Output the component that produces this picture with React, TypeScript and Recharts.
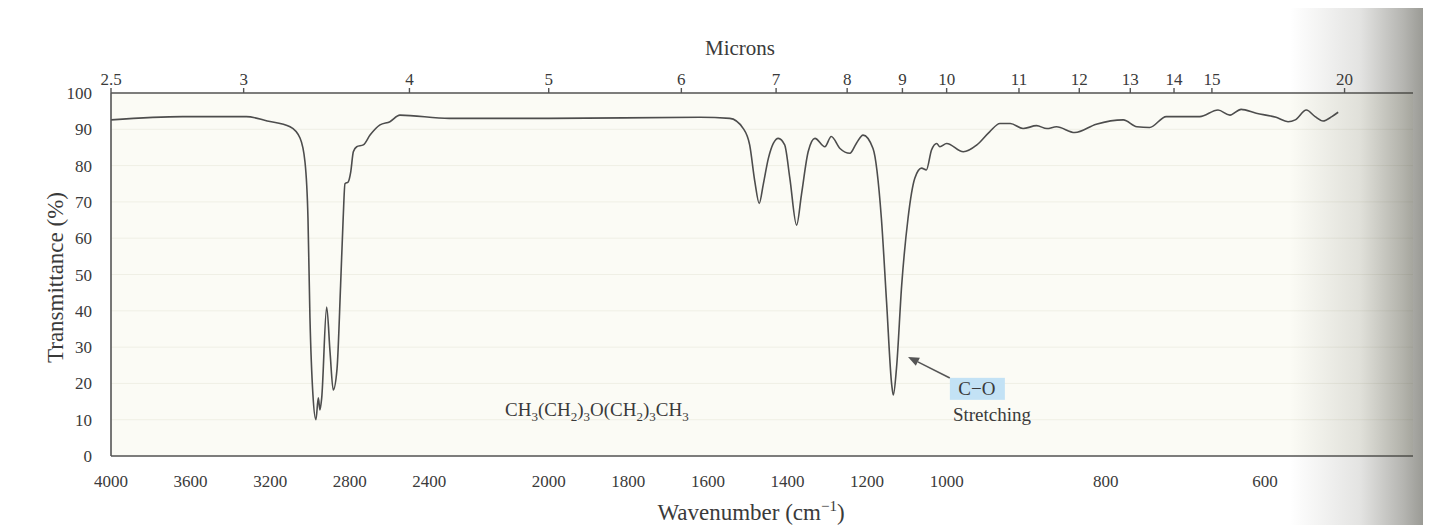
import React from 'react';
import { LineChart, Line, XAxis, YAxis, CartesianGrid, ReferenceLine, ReferenceDot } from 'recharts';

// ---- data (wavenumber in cm-1, transmittance in %) ----
const wavenumbers = [
  4000, 3640, 3320, 3215, 3100, 3050, 3025, 3010, 3000, 2985, 2970, 2958, 2950, 2941, 2916, 2899,
  2883, 2864, 2846, 2833, 2824, 2808, 2795, 2782, 2765, 2732, 2698, 2648, 2598, 2548, 2300, 2000,
  1620, 1545, 1511, 1495, 1482, 1471, 1461, 1448, 1423, 1407, 1394, 1377, 1365, 1348, 1331, 1306,
  1290, 1268, 1243, 1227, 1210, 1185, 1164, 1151, 1138, 1134, 1126, 1113, 1097, 1080, 1063, 1051,
  1038, 1025, 1017, 1000, 979, 962, 946, 933, 920, 904, 887, 874, 862, 839, 812, 778,
  761, 745, 724, 682, 659, 644, 630, 611, 586, 571, 562, 548, 537, 527, 516, 508,
];
const transmittance = [
  92.6, 93.5, 93.5, 92.3, 90.7, 87.6, 81, 65.6, 38, 16.8, 10, 16, 12.7, 16, 41, 28.6,
  18.2, 24, 47, 65.6, 75, 75.5, 78.3, 83.8, 85.2, 85.7, 88.4, 91.2, 92.1, 93.9, 93, 93,
  93.3, 93, 90.2, 85.7, 75.6, 69.6, 74.7, 82, 87.5, 85.7, 76.5, 63.6, 71.9, 83.8, 87.5, 85.2,
  88, 84.7, 83.4, 86.1, 88.4, 84.7, 65.5, 42.5, 19.6, 16.8, 24.2, 47, 65.5, 76.5, 79.3, 78.8,
  84.3, 86.1, 85.2, 86.1, 83.8, 85.7, 89.3, 91.6, 91.6, 90.2, 91, 90.2, 90.7, 89.1, 91.4, 92.6,
  90.7, 90.5, 93.5, 93.5, 95.3, 93.9, 95.5, 94.4, 93.3, 92.1, 92.6, 95.3, 93.5, 92.3, 93.5, 94.7,
];
const wavenumberTicks = [4000, 3600, 3200, 2800, 2400, 2000, 1800, 1600, 1400, 1200, 1000, 800, 600];
const micronTicks = [2.5, 3, 4, 5, 6, 7, 8, 9, 10, 11, 12, 13, 14, 15, 20];
const transmittanceTicks = [0, 10, 20, 30, 40, 50, 60, 70, 80, 90, 100];
const wavenumberStart = 4000;
const wavenumberEnd = 414;

const formulaParts: [string, boolean][] = [
  ['CH', false], ['3', true], ['(CH', false], ['2', true], [')', false], ['3', true],
  ['O(CH', false], ['2', true], [')', false], ['3', true], ['CH', false], ['3', true],
];

// piecewise-linear wavenumber axis of the spectrometer chart paper
const toU = (wn: number) =>
  wn >= 2200 ? 4000 - wn : wn >= 1000 ? 1800 + 2 * (2200 - wn) : 4200 + 4 * (1000 - wn);
const fromU = (u: number) =>
  u <= 1800 ? 4000 - u : u <= 4200 ? 2200 - (u - 1800) / 2 : 1000 - (u - 4200) / 4;

const data = wavenumbers.map((w, i) => ({ u: toU(w), t: transmittance[i] }));

const FONT = "'Liberation Serif', 'Times New Roman', serif";
const INK = '#3a3a3a';
const FRAME = '#555';

const ArrowShape = (p: any) => {
  const { x1, y1, x2, y2 } = p;
  const ang = Math.atan2(y2 - y1, x2 - x1);
  const L = 11, W = 4.5;
  const bx = x2 - L * Math.cos(ang), by = y2 - L * Math.sin(ang);
  const px = -Math.sin(ang) * W, py = Math.cos(ang) * W;
  return (
    <g>
      <line x1={x1} y1={y1} x2={bx} y2={by} stroke="#555" strokeWidth={1.6} />
      <polygon points={`${x2},${y2} ${bx + px},${by + py} ${bx - px},${by - py}`} fill="#555" />
    </g>
  );
};

export default function App() {
  return (
    <div style={{ position: 'relative', width: 1423, height: 517 }}>
      <LineChart
        width={1423}
        height={517}
        data={data}
        margin={{ top: 0, right: 18, bottom: 0, left: 0 }}
      >
        <CartesianGrid vertical={false} stroke="#efefe5" fill="#fbfbf5" />
        <XAxis
          xAxisId={0}
          dataKey="u"
          type="number"
          domain={[toU(wavenumberStart), toU(wavenumberEnd)]}
          ticks={wavenumberTicks.map(toU)}
          tickFormatter={(v: number) => String(Math.round(fromU(v)))}
          interval={0}
          height={69}
          tickLine={false}
          tickSize={0}
          tickMargin={19}
          axisLine={{ stroke: FRAME, strokeWidth: 1.6 }}
          tick={{ fill: INK, fontFamily: FONT, fontSize: 17 }}
          label={{
            content: (props: any) => {
              const vb = props.viewBox;
              return (
                <text x={vb.x + 640} y={vb.y + 64} textAnchor="middle" fill={INK} fontFamily={FONT} fontSize={23}>
                  Wavenumber (cm<tspan fontSize={15} dy={-9}>−1</tspan><tspan dy={9}>)</tspan>
                </text>
              );
            },
          }}
        />
        <XAxis
          xAxisId="top"
          orientation="top"
          dataKey="u"
          type="number"
          domain={[toU(wavenumberStart), toU(wavenumberEnd)]}
          ticks={micronTicks.map((m) => toU(10000 / m))}
          tickFormatter={(v: number) => String(Math.round((10000 / fromU(v)) * 10) / 10)}
          interval={0}
          height={85}
          tickSize={5}
          tickMargin={3}
          tickLine={{ stroke: FRAME, strokeWidth: 1.4 }}
          axisLine={{ stroke: FRAME, strokeWidth: 1.6 }}
          tick={{ fill: INK, fontFamily: FONT, fontSize: 17 }}
          label={{
            content: (props: any) => {
              const vb = props.viewBox;
              return (
                <text x={vb.x + 629} y={vb.y + 47} textAnchor="middle" fill={INK} fontFamily={FONT} fontSize={21}>
                  Microns
                </text>
              );
            },
          }}
        />
        <YAxis
          type="number"
          domain={[0, 100]}
          ticks={transmittanceTicks}
          interval={0}
          width={103}
          tickLine={false}
          tickSize={0}
          tickMargin={19}
          axisLine={{ stroke: FRAME, strokeWidth: 1.6 }}
          tick={{ fill: INK, fontFamily: FONT, fontSize: 17 }}
          label={{
            content: (props: any) => {
              const vb = props.viewBox;
              const cx = 55;
              const cy = vb.y + vb.height / 2 + 3;
              return (
                <text
                  x={cx}
                  y={cy}
                  transform={`rotate(-90 ${cx} ${cy})`}
                  textAnchor="middle"
                  fill={INK}
                  fontFamily={FONT}
                  fontSize={23}
                >
                  Transmittance (%)
                </text>
              );
            },
          }}
        />
        <Line
          type="monotone"
          dataKey="t"
          stroke="#4d4d4d"
          strokeWidth={1.6}
          dot={false}
          activeDot={false}
          isAnimationActive={false}
        />
        <ReferenceLine
          segment={[
            { x: toU(996), y: 21.5 },
            { x: toU(1097), y: 27.3 },
          ]}
          shape={ArrowShape}
          ifOverflow="visible"
        />
        <ReferenceDot
          x={toU(1879)}
          y={11.0}
          r={0}
          ifOverflow="visible"
          shape={(p: any) => (
            <text x={p.cx} y={p.cy} textAnchor="middle" fill={INK} fontFamily={FONT} fontSize={19}>
              {formulaParts.map(([s, sub], i) => {
                const prevSub = i > 0 ? formulaParts[i - 1][1] : false;
                const dy = sub && !prevSub ? 5 : !sub && prevSub ? -5 : 0;
                return (
                  <tspan key={i} fontSize={sub ? 13 : 19} dy={dy}>
                    {s}
                  </tspan>
                );
              })}
            </text>
          )}
        />
        <ReferenceDot
          x={toU(962)}
          y={18.5}
          r={0}
          ifOverflow="visible"
          shape={(p: any) => (
            <g>
              <rect x={p.cx - 27} y={p.cy - 11} width={55} height={22} fill="#c3e2f5" />
              <text x={p.cx} y={p.cy + 6} textAnchor="middle" fill={INK} fontFamily={FONT} fontSize={19}>
                C−O
              </text>
            </g>
          )}
        />
        <ReferenceDot
          x={toU(943)}
          y={9.6}
          r={0}
          ifOverflow="visible"
          shape={(p: any) => (
            <text x={p.cx} y={p.cy} textAnchor="middle" fill={INK} fontFamily={FONT} fontSize={19}>
              Stretching
            </text>
          )}
        />
      </LineChart>
      <div
        style={{
          position: 'absolute',
          left: 0,
          top: -8,
          width: 1431,
          height: 525,
          pointerEvents: 'none',
          background:
            'linear-gradient(to right, rgba(70,70,60,0) 0px, rgba(70,70,60,0) 1282px, rgba(70,70,60,0.15) 1352px, rgba(70,70,60,0.4) 1395px, rgba(70,70,60,0.6) 1423px)',
        }}
      />
    </div>
  );
}
